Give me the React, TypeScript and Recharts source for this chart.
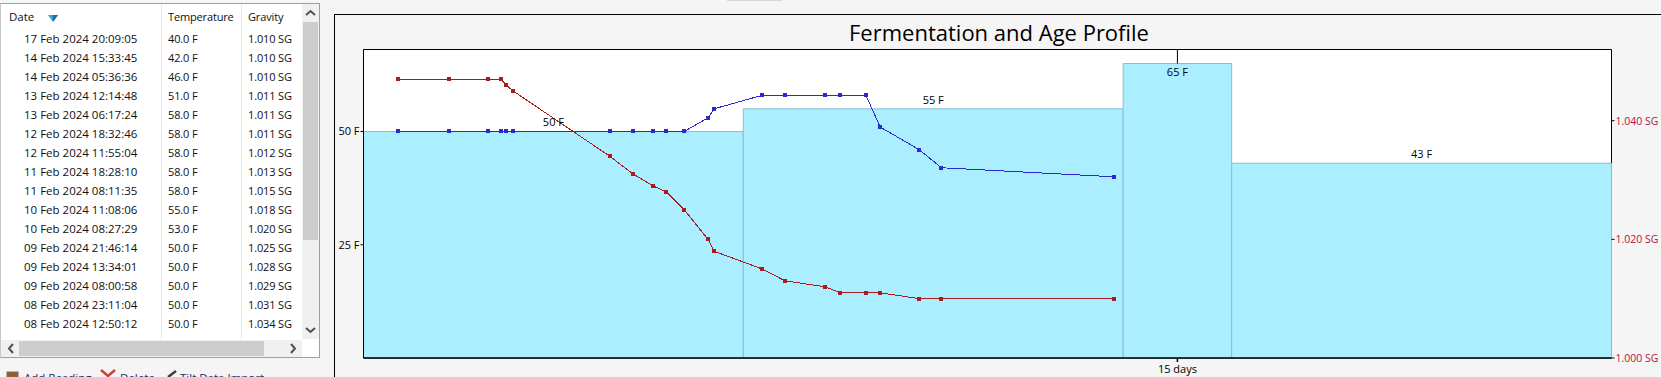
import {
  ComposedChart,
  Line,
  ReferenceArea,
  ReferenceLine,
  XAxis,
  YAxis,
} from "recharts";

// newest first, same order as the readings list
const rowDates = [
  "17 Feb 2024 20:09:05",
  "14 Feb 2024 15:33:45",
  "14 Feb 2024 05:36:36",
  "13 Feb 2024 12:14:48",
  "13 Feb 2024 06:17:24",
  "12 Feb 2024 18:32:46",
  "12 Feb 2024 11:55:04",
  "11 Feb 2024 18:28:10",
  "11 Feb 2024 08:11:35",
  "10 Feb 2024 11:08:06",
  "10 Feb 2024 08:27:29",
  "09 Feb 2024 21:46:14",
  "09 Feb 2024 13:34:01",
  "09 Feb 2024 08:00:58",
  "08 Feb 2024 23:11:04",
  "08 Feb 2024 12:50:12",
  "06 Feb 2024 16:04:53",
];
const readingDays = [13.83, 10.65, 10.24, 9.52, 9.26, 8.78, 8.51, 7.77, 7.35, 6.46, 6.35, 5.91, 5.58, 5.34, 4.97, 4.54, 2.76, 2.63, 2.53, 2.29, 1.58, 0.64];
const readingTemps = [40, 42, 46, 51, 58, 58, 58, 58, 58, 55, 53, 50, 50, 50, 50, 50, 50, 50, 50, 50, 50, 50];
const readingGravity = [1.01, 1.01, 1.01, 1.011, 1.011, 1.011, 1.012, 1.013, 1.015, 1.018, 1.02, 1.025, 1.028, 1.029, 1.031, 1.034, 1.045, 1.046, 1.047, 1.047, 1.047, 1.047];

// fermentation profile steps
const stepStarts = [0, 7, 14, 16];
const stepEnds = [7, 14, 16, 23];
const stepTemps = [50, 55, 65, 43];

const tempTicks = [25, 50];
const gravityTicks = [1.0, 1.02, 1.04];
const dayTicks = [15];
const tempMax = 68.1;
const dayMax = 23;

const readings = readingDays
  .map((day, i) => ({ day, temp: readingTemps[i], gravity: readingGravity[i] }))
  .reverse();

const uiFont = "'Open Sans', 'Noto Sans', sans-serif";
const rowColor = "#101010";

const squareDot = (color: string) => (props: any) => (
  <rect key={props.index} x={Math.round(props.cx - 2)} y={Math.round(props.cy - 2)} width={4} height={4} fill={color} />
);

// plain text so the label is not wrapped to the axis width
const gravityTick = (props: any) => (
  <text x={props.x} y={props.y} dy={4} fontSize={10.5} fill="#b8123f">
    {`${props.payload.value.toFixed(3)} SG`}
  </text>
);

function ReadingsList() {
  const text = { position: "absolute", fontSize: 11.5, lineHeight: "16px", whiteSpace: "nowrap", color: rowColor } as const;
  const narrow = { ...text, fontSize: 11, letterSpacing: -0.15 };
  return (
    <div style={{ position: "absolute", left: 0, top: 3, width: 318, height: 353, border: "1px solid #a0a0a0", borderLeftColor: "#c8c8c8", background: "#fff", overflow: "hidden" }}>
      <div style={{ position: "absolute", left: 0, top: 0, width: 301, height: 335, overflow: "hidden" }}>
        <div style={{ position: "absolute", left: 160, top: 0, width: 1, height: 335, background: "#e6e6e6" }} />
        <div style={{ position: "absolute", left: 240, top: 0, width: 1, height: 335, background: "#e6e6e6" }} />
        <span style={{ ...text, left: 8, top: 5 }}>Date</span>
        <svg style={{ position: "absolute", left: 46, top: 10 }} width={12} height={9}>
          <polygon points="1,1 11,1 6,8" fill="#3f9fd0" />
          <polygon points="6,1 11,1 6,8" fill="#1f6f9f" />
        </svg>
        <span style={{ ...narrow, left: 167, top: 5 }}>Temperature</span>
        <span style={{ ...narrow, left: 247, top: 5 }}>Gravity</span>
        {rowDates.map((date, i) => (
          <div key={date}>
            <span style={{ ...text, left: 23, top: 27 + i * 19 }}>{date}</span>
            <span style={{ ...narrow, left: 167, top: 27 + i * 19 }}>{readingTemps[i].toFixed(1)} F</span>
            <span style={{ ...narrow, left: 247, top: 27 + i * 19 }}>{readingGravity[i].toFixed(3)} SG</span>
          </div>
        ))}
      </div>
      {/* vertical scrollbar */}
      <div style={{ position: "absolute", left: 301, top: 0, width: 17, height: 335, background: "#f0f0f0" }}>
        <div style={{ position: "absolute", left: 1, top: 18, width: 15, height: 218, background: "#cdcdcd" }} />
        <svg style={{ position: "absolute", left: 3, top: 5 }} width={11} height={8}>
          <polyline points="1,6 5.5,2 10,6" fill="none" stroke="#505050" strokeWidth={2} />
        </svg>
        <svg style={{ position: "absolute", left: 3, top: 322 }} width={11} height={8}>
          <polyline points="1,2 5.5,6 10,2" fill="none" stroke="#505050" strokeWidth={2} />
        </svg>
      </div>
      {/* horizontal scrollbar */}
      <div style={{ position: "absolute", left: 0, top: 336, width: 301, height: 17, background: "#f0f0f0" }}>
        <div style={{ position: "absolute", left: 18, top: 1, width: 245, height: 15, background: "#cdcdcd" }} />
        <svg style={{ position: "absolute", left: 6, top: 3 }} width={8} height={11}>
          <polyline points="6,1 2,5.5 6,10" fill="none" stroke="#505050" strokeWidth={2} />
        </svg>
        <svg style={{ position: "absolute", left: 288, top: 3 }} width={8} height={11}>
          <polyline points="2,1 6,5.5 2,10" fill="none" stroke="#505050" strokeWidth={2} />
        </svg>
      </div>
    </div>
  );
}

function Toolbar() {
  const text = { position: "absolute", top: 370, fontSize: 11.5, lineHeight: "16px", whiteSpace: "nowrap", color: "#1a2a5a" } as const;
  return (
    <>
      <svg style={{ position: "absolute", left: 6, top: 370 }} width={14} height={7}>
        <rect x={1} y={2} width={11} height={5} fill="#a05a20" stroke="#707070" />
      </svg>
      <span style={{ ...text, left: 24 }}>Add Reading</span>
      <svg style={{ position: "absolute", left: 99, top: 369 }} width={18} height={8}>
        <polyline points="2,1 9,7 16,1" fill="none" stroke="#d04030" strokeWidth={2.5} />
      </svg>
      <span style={{ ...text, left: 120 }}>Delete</span>
      <svg style={{ position: "absolute", left: 166, top: 370 }} width={12} height={7}>
        <line x1={2} y1={7} x2={10} y2={1} stroke="#404040" strokeWidth={2.5} />
      </svg>
      <span style={{ ...text, left: 180 }}>Tilt Data Import</span>
    </>
  );
}

export default function App() {
  return (
    <div style={{ position: "relative", width: 1661, height: 377, overflow: "hidden", background: "#f5f5f5", fontFamily: uiFont }}>
      <style>{"body{margin:0}"}</style>
      <ReadingsList />
      <Toolbar />

      {/* chart frame */}
      <div style={{ position: "absolute", left: 727, top: 0, width: 55, height: 1, background: "#d8d8d8" }} />
      <div style={{ position: "absolute", left: 334, top: 14, width: 1327, height: 1, background: "#000" }} />
      <div style={{ position: "absolute", left: 334, top: 14, width: 1, height: 363, background: "#000" }} />
      <div style={{ position: "absolute", left: 337, top: 18, width: 1324, textAlign: "center", fontSize: 22, lineHeight: "29px", color: "#000" }}>
        Fermentation and Age Profile
      </div>

      <div style={{ position: "absolute", left: 0, top: 0 }}>
        <ComposedChart width={1661} height={377} data={readings} margin={{ top: 49.5, right: 0, bottom: 0, left: 323.5 }}>
          <XAxis dataKey="day" type="number" domain={[0, dayMax]} ticks={dayTicks} tickFormatter={(v) => `${v} days`} height={19} tickSize={4} tickMargin={3} tick={{ fontSize: 11, fill: "#000" }} stroke="#000" strokeWidth={1.5} />
          <YAxis yAxisId="temp" width={40} domain={[0, tempMax]} ticks={tempTicks} tickFormatter={(v) => `${v} F`} tickSize={3} tickMargin={1} tick={{ fontSize: 11, fill: "#000" }} stroke="#000" />
          <YAxis yAxisId="gravity" orientation="right" width={49.5} domain={[1.0, 1.052]} ticks={gravityTicks} tickSize={3} tickMargin={1} axisLine={false} tick={gravityTick} stroke="#000" />
          <ReferenceArea yAxisId="temp" x1={0} x2={dayMax} y1={0} y2={tempMax} fill="#fff" fillOpacity={1} stroke="#000" />
          <ReferenceLine yAxisId="temp" stroke="#000" segment={[{ x: dayTicks[0], y: tempMax }, { x: dayTicks[0], y: 65 }]} />
          {stepTemps.map((temp, i) => (
            <ReferenceArea
              key={i}
              yAxisId="temp"
              x1={stepStarts[i]}
              x2={stepEnds[i]}
              y1={0}
              y2={temp}
              fill="#aaeeff"
              fillOpacity={1}
              stroke="#88bdd0"
              label={{ value: `${temp} F`, position: temp > 60 ? "insideTop" : "top", fontSize: 11, fill: "#000" }}
            />
          ))}
          <Line yAxisId="temp" dataKey="temp" type="linear" stroke="#2a2ad0" strokeWidth={1} shapeRendering="crispEdges" dot={squareDot("#2a2ad0")} isAnimationActive={false} />
          <Line yAxisId="gravity" dataKey="gravity" type="linear" stroke="#a81c1c" strokeWidth={1} shapeRendering="crispEdges" dot={squareDot("#a81c1c")} isAnimationActive={false} />
        </ComposedChart>
      </div>
    </div>
  );
}
